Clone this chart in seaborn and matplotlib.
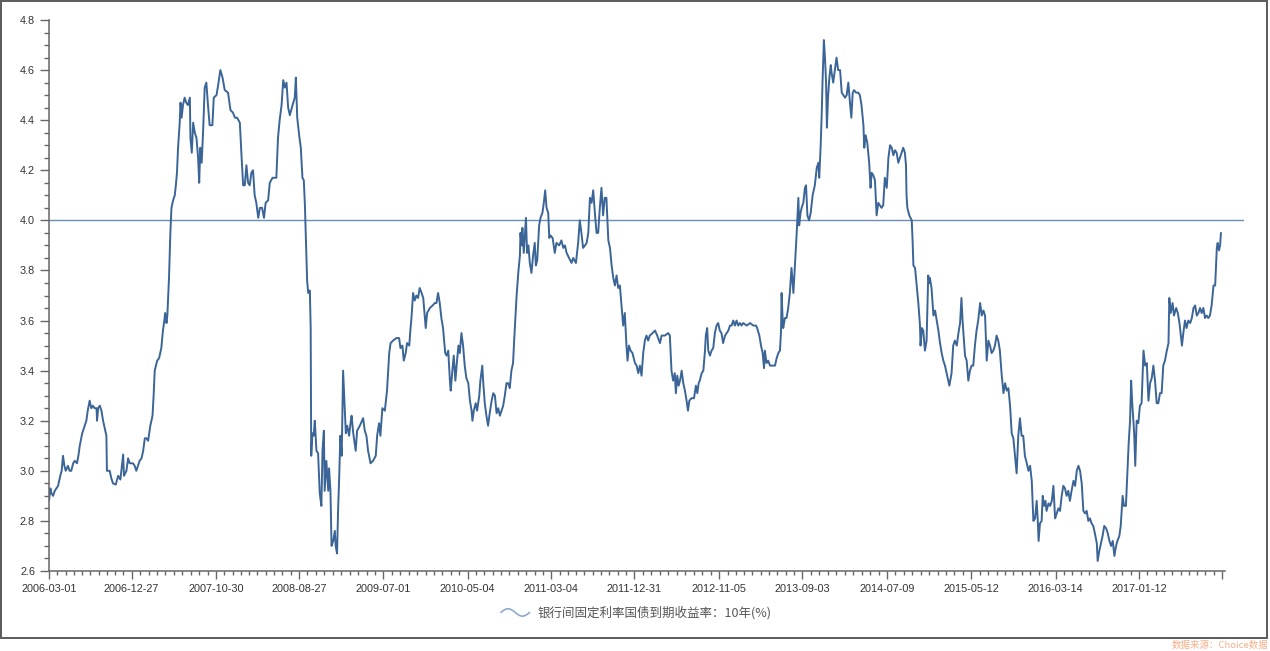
import numpy as np
import pandas as pd
import matplotlib
matplotlib.use("Agg")
import matplotlib.pyplot as plt
import seaborn as sns
from matplotlib.legend_handler import HandlerBase
from matplotlib.lines import Line2D
from matplotlib.patches import Rectangle
from matplotlib.ticker import MultipleLocator
import matplotlib.dates as mdates

# ---------------- data (days since start, yield %) ----------------
start_date = "2006-03-01"
series_name = "银行间固定利率国债到期收益率：10年(%)"
source_text = "数据来源：Choice数据"
ref_level = 4.0

seg_2006_2008 = [(0,2.88),(5,2.93),(9,2.91),(15,2.90),(21,2.92),(27,2.93),(33,2.94),(41,2.98),(46,3.00),(51,3.06),(56,3.02),(61,3.00),(69,3.02),(75,3.00),(81,3.00),(88,3.03),(94,3.04),(102,3.03),(107,3.06),(112,3.10),(121,3.15),(130,3.18),(136,3.20),(141,3.24),(148,3.28),(154,3.25),(160,3.26),(166,3.25),(173,3.25),(175,3.20),(179,3.25),(185,3.26),(191,3.24),(197,3.20),(203,3.17),(209,3.14),(211,3.00),(221,3.00),(227,2.97),(233,2.95),(243,2.945),(252,2.98),(260,2.965),(270,3.065),(273,2.98),(282,3.00),(288,3.05),(294,3.03),(300,3.03),(306,3.03),(312,3.02),(318,3.00),(324,3.02),(330,3.04),(337,3.05),(343,3.08),(349,3.13),(355,3.13),(361,3.12),(369,3.18),(377,3.22),(381,3.30),(385,3.40),(394,3.44),(401,3.45),(409,3.49),(415,3.56),(420,3.60),(423,3.63),(428,3.59),(431,3.62),(437,3.77),(442,3.95),(446,4.05),(452,4.08),(458,4.10),(462,4.14),(466,4.19),(470,4.29),(476,4.39),(479,4.47),(483,4.41),(488,4.46),(494,4.49),(500,4.47),(506,4.46),(513,4.49),(515,4.33),(520,4.27),(525,4.39),(531,4.35),(537,4.33),(543,4.25),(547,4.15),(551,4.29),(556,4.23),(561,4.35),(567,4.53),(573,4.55),(579,4.46),(585,4.38),(595,4.38),(600,4.49),(610,4.50),(616,4.54),(624,4.60),(632,4.57),(640,4.52),(652,4.51),(661,4.44),(670,4.43),(677,4.41),(685,4.41),(695,4.39),(701,4.26),(707,4.14),(713,4.14),(719,4.22),(725,4.15),(731,4.14),(737,4.19),(743,4.20),(749,4.10),(755,4.07),(762,4.01),(768,4.05),(776,4.05),(783,4.01),(789,4.07),(798,4.08),(804,4.15),(814,4.17),(828,4.17),(834,4.33),(840,4.40),(847,4.46),(853,4.56),(859,4.53),(865,4.55),(871,4.45),(877,4.42),(887,4.46),(895,4.49),(899,4.57),(904,4.41),(911,4.34),(917,4.29),(923,4.17),(928,4.16),(932,4.06),(935,3.95),(940,3.76),(944,3.71),(950,3.72),(953,3.57)]

seg_2008_2011 = [(955,3.06),(959,3.15),(964,3.14),(968,3.20),(974,3.08),(980,3.07),(986,2.91),(992,2.86),(996,3.08),(1001,3.16),(1004,2.92),(1010,3.04),(1017,2.92),(1020,3.01),(1025,2.92),(1029,2.70),(1035,2.72),(1041,2.76),(1044,2.70),(1049,2.67),(1053,2.85),(1057,2.98),(1061,3.14),(1066,3.06),(1071,3.40),(1075,3.30),(1081,3.15),(1086,3.18),(1093,3.14),(1098,3.19),(1102,3.22),(1108,3.15),(1117,3.08),(1122,3.16),(1132,3.18),(1144,3.21),(1150,3.16),(1156,3.14),(1162,3.08),(1171,3.03),(1180,3.04),(1190,3.06),(1195,3.14),(1202,3.19),(1207,3.14),(1214,3.25),(1223,3.24),(1231,3.32),(1239,3.47),(1244,3.51),(1253,3.52),(1265,3.53),(1275,3.53),(1280,3.49),(1287,3.50),(1292,3.44),(1299,3.47),(1304,3.51),(1312,3.50),(1316,3.56),(1320,3.61),(1326,3.71),(1332,3.68),(1338,3.70),(1344,3.69),(1350,3.73),(1357,3.71),(1363,3.69),(1369,3.61),(1372,3.57),(1377,3.63),(1387,3.65),(1397,3.66),(1405,3.67),(1411,3.67),(1417,3.71),(1423,3.67),(1429,3.61),(1435,3.57),(1439,3.52),(1443,3.47),(1448,3.46),(1454,3.48),(1460,3.36),(1463,3.32),(1469,3.40),(1474,3.46),(1480,3.36),(1486,3.44),(1491,3.50),(1496,3.47),(1502,3.55),(1508,3.50),(1514,3.42),(1520,3.37),(1527,3.35),(1533,3.28),(1539,3.24),(1542,3.20),(1547,3.24),(1554,3.27),(1559,3.24),(1567,3.30),(1571,3.36),(1578,3.42),(1581,3.36),(1587,3.27),(1593,3.22),(1599,3.18),(1605,3.23),(1612,3.28),(1618,3.31),(1624,3.30),(1630,3.23),(1636,3.25),(1642,3.22),(1648,3.24),(1654,3.26),(1660,3.30),(1666,3.35),(1672,3.35),(1678,3.33),(1684,3.40),(1690,3.43),(1694,3.52),(1698,3.60),(1703,3.70),(1709,3.79),(1715,3.86),(1717,3.95),(1721,3.90),(1724,3.97),(1729,3.87),(1737,4.01),(1741,3.87),(1746,3.90),(1751,3.83),(1757,3.79),(1763,3.86),(1769,3.91),(1773,3.82),(1778,3.84),(1785,3.98),(1790,4.01),(1797,4.03),(1802,4.07),(1807,4.12),(1812,4.05),(1818,4.03),(1822,3.93),(1826,3.94),(1834,3.93),(1842,3.87),(1848,3.91),(1858,3.90),(1866,3.92),(1873,3.89),(1879,3.90),(1885,3.87),(1894,3.85),(1903,3.83),(1909,3.85),(1919,3.83),(1927,3.91),(1933,4.00),(1939,3.95),(1945,3.89),(1952,3.90),(1958,3.91),(1964,3.95),(1970,4.09),(1976,4.07),(1982,4.12),(1988,4.03),(1994,3.95),(2000,3.95),(2006,4.05),(2012,4.13),(2018,4.02),(2024,4.09),(2030,4.09),(2037,3.92),(2043,3.89),(2049,3.82),(2055,3.77),(2061,3.74),(2067,3.78),(2073,3.73),(2079,3.74)]

seg_2011_2014 = [(2085,3.66),(2091,3.58),(2097,3.63),(2103,3.50),(2107,3.44),(2112,3.50),(2118,3.48),(2125,3.47),(2134,3.43),(2140,3.42),(2146,3.39),(2152,3.42),(2158,3.38),(2164,3.47),(2170,3.52),(2176,3.54),(2182,3.52),(2188,3.54),(2198,3.55),(2207,3.56),(2215,3.54),(2225,3.51),(2231,3.54),(2243,3.54),(2255,3.55),(2261,3.54),(2267,3.40),(2273,3.36),(2279,3.39),(2283,3.31),(2288,3.38),(2293,3.34),(2298,3.36),(2304,3.40),(2310,3.35),(2316,3.32),(2322,3.28),(2327,3.24),(2332,3.28),(2340,3.29),(2349,3.29),(2356,3.34),(2361,3.31),(2366,3.35),(2370,3.36),(2377,3.39),(2383,3.40),(2389,3.48),(2392,3.54),(2397,3.57),(2401,3.48),(2407,3.46),(2413,3.48),(2419,3.49),(2425,3.55),(2431,3.58),(2437,3.59),(2443,3.56),(2449,3.55),(2455,3.51),(2462,3.54),(2468,3.55),(2474,3.56),(2480,3.58),(2486,3.58),(2492,3.60),(2498,3.58),(2504,3.60),(2510,3.58),(2516,3.59),(2522,3.58),(2528,3.59),(2541,3.58),(2553,3.59),(2565,3.58),(2575,3.58),(2579,3.57),(2587,3.54),(2593,3.50),(2599,3.47),(2604,3.41),(2607,3.48),(2613,3.43),(2619,3.44),(2626,3.42),(2632,3.42),(2638,3.42),(2644,3.42),(2650,3.45),(2656,3.47),(2662,3.48),(2666,3.56),(2668,3.71),(2672,3.60),(2674,3.57),(2680,3.61),(2686,3.61),(2692,3.65),(2698,3.71),(2704,3.81),(2711,3.71),(2717,3.83),(2723,3.95),(2729,4.09),(2732,3.98),(2737,4.03),(2741,4.05),(2747,4.07),(2753,4.13),(2757,4.14),(2762,4.02),(2768,4.00),(2774,4.03),(2781,4.10),(2789,4.14),(2796,4.21),(2802,4.23),(2805,4.17),(2810,4.29),(2814,4.42),(2817,4.55),(2822,4.72),(2826,4.65),(2830,4.55),(2833,4.37),(2837,4.49),(2842,4.57),(2847,4.62),(2850,4.59),(2856,4.55),(2862,4.60),(2868,4.65),(2874,4.60),(2881,4.60),(2887,4.51),(2893,4.50),(2899,4.49),(2905,4.50),(2911,4.55),(2917,4.47),(2922,4.41),(2927,4.51),(2932,4.52),(2939,4.51),(2947,4.51),(2953,4.50),(2959,4.46),(2966,4.38),(2969,4.29),(2974,4.34),(2980,4.31),(2987,4.23),(2992,4.13),(2996,4.19),(3002,4.18),(3008,4.16),(3014,4.02),(3020,4.07),(3026,4.06),(3032,4.05),(3038,4.06),(3044,4.17),(3051,4.13),(3057,4.25),(3063,4.30),(3069,4.29),(3075,4.26),(3081,4.28),(3087,4.27),(3093,4.23),(3099,4.25)]

seg_2014_2017 = [(3105,4.27),(3111,4.29),(3117,4.27),(3121,4.22),(3123,4.10),(3126,4.05),(3133,4.02),(3142,4.00),(3145,3.92),(3148,3.82),(3154,3.81),(3160,3.74),(3166,3.67),(3172,3.58),(3174,3.50),(3179,3.57),(3184,3.56),(3190,3.48),(3196,3.52),(3202,3.78),(3206,3.75),(3208,3.77),(3214,3.73),(3221,3.62),(3227,3.64),(3233,3.60),(3239,3.56),(3245,3.51),(3251,3.47),(3257,3.44),(3263,3.42),(3269,3.39),(3279,3.34),(3287,3.39),(3293,3.50),(3299,3.52),(3306,3.50),(3312,3.55),(3318,3.59),(3323,3.69),(3327,3.60),(3332,3.52),(3336,3.46),(3342,3.44),(3348,3.36),(3354,3.40),(3360,3.42),(3366,3.42),(3372,3.50),(3378,3.56),(3384,3.60),(3391,3.67),(3397,3.62),(3403,3.64),(3409,3.62),(3415,3.44),(3421,3.52),(3427,3.50),(3433,3.47),(3439,3.48),(3445,3.50),(3451,3.54),(3457,3.52),(3463,3.48),(3469,3.39),(3476,3.31),(3482,3.35),(3488,3.32),(3494,3.33),(3500,3.26),(3506,3.15),(3512,3.13),(3518,3.06),(3524,2.99),(3530,3.14),(3536,3.21),(3542,3.14),(3548,3.14),(3554,3.06),(3561,3.03),(3567,3.00),(3573,3.02),(3579,2.96),(3585,2.80),(3591,2.81),(3597,2.88),(3601,2.80),(3604,2.72),(3609,2.79),(3615,2.80),(3619,2.90),(3624,2.86),(3629,2.88),(3633,2.84),(3640,2.87),(3646,2.86),(3652,2.88),(3658,2.94),(3664,2.81),(3670,2.83),(3676,2.85),(3682,2.84),(3688,2.90),(3694,2.94),(3700,2.93),(3706,2.90),(3712,2.92),(3718,2.88),(3724,2.92),(3731,2.96),(3737,2.94),(3743,3.00),(3749,3.02),(3755,3.00),(3761,2.95),(3767,2.84),(3773,2.83),(3779,2.84),(3785,2.80),(3791,2.81),(3797,2.79),(3803,2.78),(3809,2.75),(3816,2.71),(3819,2.64),(3825,2.68),(3831,2.71),(3837,2.74),(3843,2.78),(3850,2.77),(3856,2.75),(3862,2.72),(3868,2.70),(3874,2.72),(3880,2.66),(3886,2.70),(3891,2.72),(3898,2.74),(3903,2.78),(3910,2.90),(3915,2.86),(3922,2.86),(3927,2.99),(3932,3.11),(3937,3.20),(3941,3.36),(3945,3.27),(3952,3.15),(3956,3.02),(3961,3.20),(3967,3.19),(3973,3.26),(3979,3.27),(3986,3.48),(3992,3.42),(3998,3.43),(4004,3.28),(4010,3.35),(4016,3.37),(4022,3.42),(4028,3.36),(4034,3.27),(4040,3.27),(4046,3.31),(4052,3.31),(4058,3.42),(4064,3.44),(4071,3.48),(4077,3.51),(4080,3.69),(4085,3.63),(4092,3.67),(4097,3.62),(4105,3.65),(4111,3.63),(4117,3.59),(4122,3.54),(4126,3.50),(4131,3.55),(4137,3.60),(4143,3.57),(4149,3.60),(4156,3.59),(4162,3.61),(4168,3.65),(4174,3.66),(4180,3.62),(4186,3.63),(4192,3.65),(4198,3.63),(4204,3.65),(4210,3.61),(4216,3.62),(4222,3.61),(4228,3.62),(4234,3.66),(4241,3.74),(4247,3.74),(4253,3.89),(4256,3.91),(4261,3.88),(4265,3.90),(4268,3.95)]

tick_labels = ["2006-03-01", "2006-12-27", "2007-10-30", "2008-08-27", "2009-07-01",
               "2010-05-04", "2011-03-04", "2011-12-31", "2012-11-05", "2013-09-03",
               "2014-07-09", "2015-05-12", "2016-03-14", "2017-01-12"]
last_tick = "2017-11-10"
axis_end = "2017-11-21"
plot_end = "2018-01-29"
y_ticks = [2.6, 2.8, 3.0, 3.2, 3.4, 3.6, 3.8, 4.0, 4.2, 4.4, 4.6, 4.8]

# ---------------- build frame ----------------
pairs = seg_2006_2008 + seg_2008_2011 + seg_2011_2014 + seg_2014_2017
df = pd.DataFrame(pairs, columns=["day", "yield"])
df["date"] = pd.Timestamp(start_date) + pd.to_timedelta(df["day"], unit="D")

# ---------------- style ----------------
sns.set_theme(style="white")
plt.rcParams["font.family"] = ["Liberation Sans", "Noto Sans CJK SC", "DejaVu Sans"]
LINE = "#3b6597"
REF = "#6a8db6"
AX = "#666666"
TXT = "#333333"

fig = plt.figure(figsize=(12.7, 6.51), dpi=100)
ax = fig.add_axes([49 / 1270, 1 - 571 / 651, (1244 - 49) / 1270, (571 - 20) / 651])

sns.lineplot(data=df, x="date", y="yield", ax=ax, color=LINE, linewidth=1.4,
             estimator=None, label=series_name, legend=False)
ax.axhline(ref_level, color=REF, linewidth=1.0, zorder=1)

x0 = mdates.date2num(pd.Timestamp(start_date))
ax.set_xlim(x0, mdates.date2num(pd.Timestamp(plot_end)))
ax.set_ylim(2.6, 4.8)

# spines
for s in ["top", "right"]:
    ax.spines[s].set_visible(False)
for s in ["left", "bottom"]:
    ax.spines[s].set_color(AX)
    ax.spines[s].set_linewidth(1.1)
ax.spines["bottom"].set_bounds(x0, mdates.date2num(pd.Timestamp(axis_end)))

# x ticks
major = [mdates.date2num(pd.Timestamp(t)) for t in tick_labels + [last_tick]]
ax.set_xticks(major)
ax.set_xticklabels(tick_labels + [""])
minor = []
for a, b in zip(major[:-1], major[1:]):
    minor.extend(np.linspace(a, b, 11)[1:-1])
ax.set_xticks(minor, minor=True)

# y ticks
ax.set_yticks(y_ticks)
ax.set_yticklabels([f"{v:.1f}" for v in y_ticks])
ax.yaxis.set_minor_locator(MultipleLocator(0.05))

ax.tick_params(axis="x", which="major", direction="out", length=6, width=1, color=AX,
               labelsize=7.8, labelcolor=TXT, pad=3, bottom=True)
ax.tick_params(axis="x", which="minor", direction="out", length=3, width=1, color=AX, bottom=True)
ax.tick_params(axis="y", which="major", direction="out", length=6.5, width=1, color=AX,
               labelsize=7.8, labelcolor=TXT, pad=3.5, left=True)
ax.tick_params(axis="y", which="minor", direction="out", length=3.5, width=1, color=AX, left=True)
ax.set_xlabel("")
ax.set_ylabel("")
ax.grid(False)


# legend with wave icon
class WaveHandler(HandlerBase):
    def create_artists(self, legend, orig_handle, xdescent, ydescent, width, height,
                       fontsize, trans):
        t = np.linspace(0, 1, 60)
        xs = -xdescent + t * width
        ys = -ydescent + height / 2 + 0.42 * height * np.sin(2 * np.pi * t)
        ln = Line2D(xs, ys, color="#8eaad0", linewidth=1.2, transform=trans)
        return [ln]


handle = ax.lines[0]
fig.legend([handle], [series_name], loc="center",
           bbox_to_anchor=(636 / 1270, 1 - 613 / 651), frameon=False,
           handler_map={Line2D: WaveHandler()}, handlelength=2.3, handletextpad=0.6,
           prop={"family": ["Noto Sans CJK SC", "DejaVu Sans"], "size": 9}, labelcolor="#555555")

# outer frame
fig.patches.append(Rectangle((1 / 1270, 1 - 638 / 651), 1266 / 1270, 637 / 651,
                             transform=fig.transFigure, fill=False,
                             edgecolor="#5a5a5a", linewidth=1.4))

fig.text(1268 / 1270, 1 - 645 / 651, source_text, ha="right", va="center",
         color="#f8b088", fontsize=6.8, family=["Noto Sans CJK SC", "DejaVu Sans"])

fig.savefig("out.png", dpi=100, facecolor="white")
